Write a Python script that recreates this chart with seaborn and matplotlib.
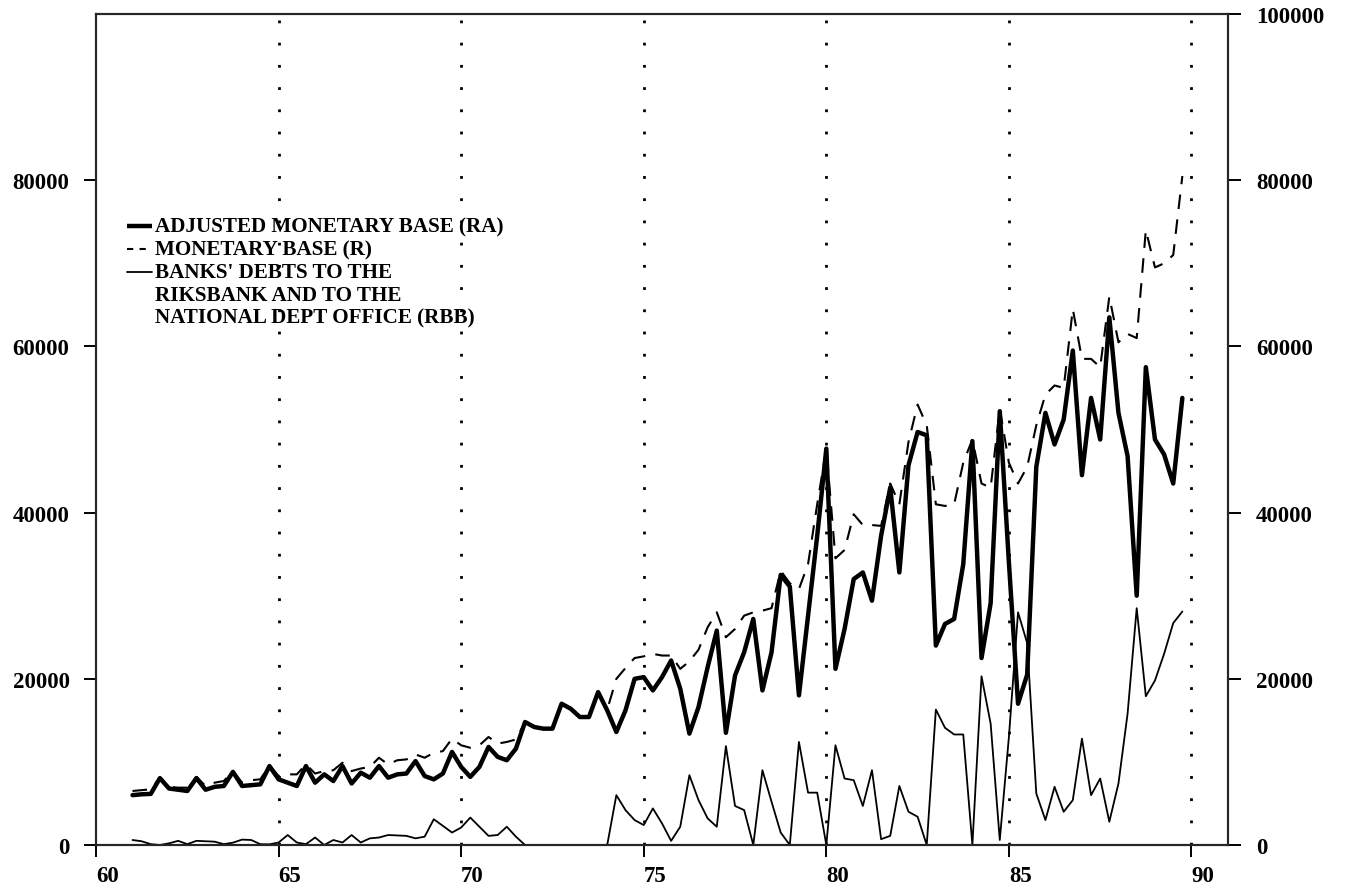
import numpy as np
import pandas as pd
import matplotlib
matplotlib.use("Agg")
import matplotlib.pyplot as plt
import seaborn as sns

# Quarterly observations, 1961Q1 .. 1989Q4 (two-digit years on the axis)
quarters = np.arange(61.0, 90.0, 0.25)

# Adjusted monetary base (RA), million SEK
ra = [
    6000, 6100, 6150, 8050,
    6800, 6650, 6500, 8050,
    6650, 7000, 7100, 8800,
    7100, 7200, 7300, 9500,
    7900, 7500, 7100, 9500,
    7500, 8500, 7700, 9500,
    7400, 8700, 8100, 9500,
    8100, 8500, 8600, 10100,
    8300, 7900, 8600, 11200,
    9400, 8200, 9400, 11800,
    10600, 10200, 11600, 14800,
    14200, 14000, 14000, 17000,
    16400, 15400, 15400, 18400,
    16200, 13600, 16200, 20000,
    20200, 18600, 20200, 22200,
    18800, 13400, 16600, 21400,
    25800, 13500, 20400, 23200,
    27200, 18600, 23200, 32500,
    31100, 18000, 27600, 37200,
    47700, 21200, 26000, 32000,
    32800, 29400, 37200, 43000,
    32800, 45700, 49700, 49300,
    24000, 26600, 27200, 33800,
    48600, 22500, 29100, 52200,
    34000, 17000, 20500, 45500,
    52000, 48200, 51200, 59500,
    44500, 53800, 48800, 63500,
    52000, 46800, 30000, 57500,
    48800, 47000, 43500, 53800,
]

# Monetary base (R)
r = [
    6500, 6600, 6700, 8100,
    7000, 6900, 6900, 8200,
    7100, 7500, 7700, 8900,
    7500, 7800, 7900, 9600,
    8300, 8500, 8500, 9700,
    8600, 8900, 9000, 9900,
    8900, 9200, 9400, 10500,
    9700, 10200, 10300, 10900,
    10500, 11100, 11300, 12800,
    12000, 11700, 12000, 13000,
    12200, 12400, 12700, 14800,
    14200, 14000, 14000, 17000,
    16400, 15400, 15400, 18400,
    16300, 20000, 21300, 22500,
    22700, 23000, 22800, 22800,
    21200, 22100, 23500, 26200,
    28000, 25000, 26000, 27600,
    28000, 28200, 28500, 33000,
    31500, 30800, 33800, 41000,
    47700, 34500, 35500, 39800,
    38500, 38500, 38400, 43500,
    41000, 48500, 53000, 50500,
    41000, 40800, 41000, 46000,
    48800, 43500, 43000, 52500,
    46000, 43500, 45500, 50500,
    54200, 55300, 55000, 64500,
    58500, 58500, 57500, 66000,
    60500, 61500, 61000, 74000,
    69500, 70000, 71000, 80500,
]

# Banks' debts to the Riksbank and to the National Debt Office (RBB)
rbb = [
    600, 450, 100, 0,
    200, 500, 100, 500,
    450, 400, 100, 280,
    650, 600, 100, 80,
    300, 1200, 300, 100,
    900, 0, 600, 300,
    1200, 300, 800, 900,
    1200, 1150, 1100, 800,
    1000, 3100, 2300, 1500,
    2100, 3300, 2200, 1100,
    1200, 2200, 1000, 0,
    0, 0, 0, 0,
    0, 0, 0, 0,
    0, 6000, 4200, 3000,
    2400, 4400, 2600, 500,
    2200, 8400, 5400, 3200,
    2200, 11900, 4700, 4200,
    0, 9000, 5200, 1500,
    0, 12400, 6300, 6300,
    0, 12000, 8000, 7800,
    4700, 9000, 700, 1100,
    7100, 4000, 3400, 0,
    16300, 14100, 13300, 13300,
    0, 20300, 14600, 600,
    13000, 28000, 24300, 6200,
    3000, 7000, 4000, 5400,
    12800, 6000, 8000, 2800,
    7400, 15800, 28500, 17900,
    19800, 23000, 26700, 28100,
]

x_ticks = [60, 65, 70, 75, 80, 85, 90]
x_tick_labels = ["60", "65", "70", "75", "80", "85", "90"]
left_ticks = [0, 20000, 40000, 60000, 80000]
right_ticks = [0, 20000, 40000, 60000, 80000, 100000]
marker_years = [65, 70, 75, 80, 85, 90]

legend_labels = [
    "ADJUSTED MONETARY BASE (RA)",
    "MONETARY BASE (R)",
    "BANKS' DEBTS TO THE",
    "RIKSBANK AND TO THE",
    "NATIONAL DEPT OFFICE (RBB)",
]

df = pd.DataFrame({"year": quarters, "RA": ra, "R": r, "RBB": rbb})

sns.set_style("ticks")
plt.rcParams["font.family"] = ["Liberation Serif", "DejaVu Serif"]
plt.rcParams["font.weight"] = "bold"

W, H = 1346, 895
fig = plt.figure(figsize=(W / 100, H / 100), dpi=100)
L, R_, T, B = 96, 1228, 15, 846
ax = fig.add_axes([L / W, 1 - B / H, (R_ - L) / W, (B - T) / H])

# dotted guide lines at every fifth year
for yr in marker_years:
    ax.axvline(yr, color="black", lw=2.0, linestyle=(0, (1, 7)), zorder=1)

sns.lineplot(data=df, x="year", y="RBB", ax=ax, color="black", linewidth=1.3, zorder=3)
sns.lineplot(data=df, x="year", y="R", ax=ax, color="black", linewidth=1.5, zorder=4)
ax.lines[-1].set_dashes([7, 5])
sns.lineplot(data=df, x="year", y="RA", ax=ax, color="black", linewidth=3.2, zorder=5)

ax.set_xlim(60, 91)
ax.set_ylim(0, 100000)
ax.set_xlabel("")
ax.set_ylabel("")
ax.set_xticks(x_ticks)
ax.set_xticklabels(x_tick_labels, ha="left")
ax.set_yticks(left_ticks)
ax.set_yticklabels([str(v) for v in left_ticks])

for s in ax.spines.values():
    s.set_visible(True)
    s.set_linewidth(1.5)
    s.set_color("black")

ax.tick_params(axis="x", direction="out", length=8.5, width=1.4, pad=6, colors="black")
ax.tick_params(axis="y", direction="out", length=9, width=1.4, pad=10, colors="black")
for lab in ax.get_xticklabels() + ax.get_yticklabels():
    lab.set_fontsize(16.5)
    lab.set_fontweight("bold")

ax2 = ax.twinx()
ax2.set_ylim(0, 100000)
ax2.set_yticks(right_ticks)
ax2.set_yticklabels([str(v) for v in right_ticks])
ax2.tick_params(axis="y", direction="out", length=9, width=1.4, pad=11, colors="black")
for lab in ax2.get_yticklabels():
    lab.set_fontsize(16.5)
    lab.set_fontweight("bold")
for s in ax2.spines.values():
    s.set_linewidth(1.5)

# legend keys and labels
def ax_x(px):
    return (px - L) / (R_ - L)

def ax_y(py):
    return (B - py) / (B - T)

rows = [227, 250, 273, 296, 318]
key_x = [ax_x(127), ax_x(152)]
ax.plot(key_x, [ax_y(rows[0])] * 2, transform=ax.transAxes, color="black", lw=3.2,
        solid_capstyle="butt")
k2, = ax.plot(key_x, [ax_y(rows[1])] * 2, transform=ax.transAxes, color="black", lw=1.5)
k2.set_dashes([3, 3])
ax.plot(key_x, [ax_y(rows[2])] * 2, transform=ax.transAxes, color="black", lw=1.3)
for py, text in zip(rows, legend_labels):
    ax.text(ax_x(155), ax_y(py), text, transform=ax.transAxes, va="center", ha="left",
            fontsize=15.2, fontweight="bold", family="Liberation Serif", color="black")

fig.savefig("out.png", dpi=100, facecolor="white")
